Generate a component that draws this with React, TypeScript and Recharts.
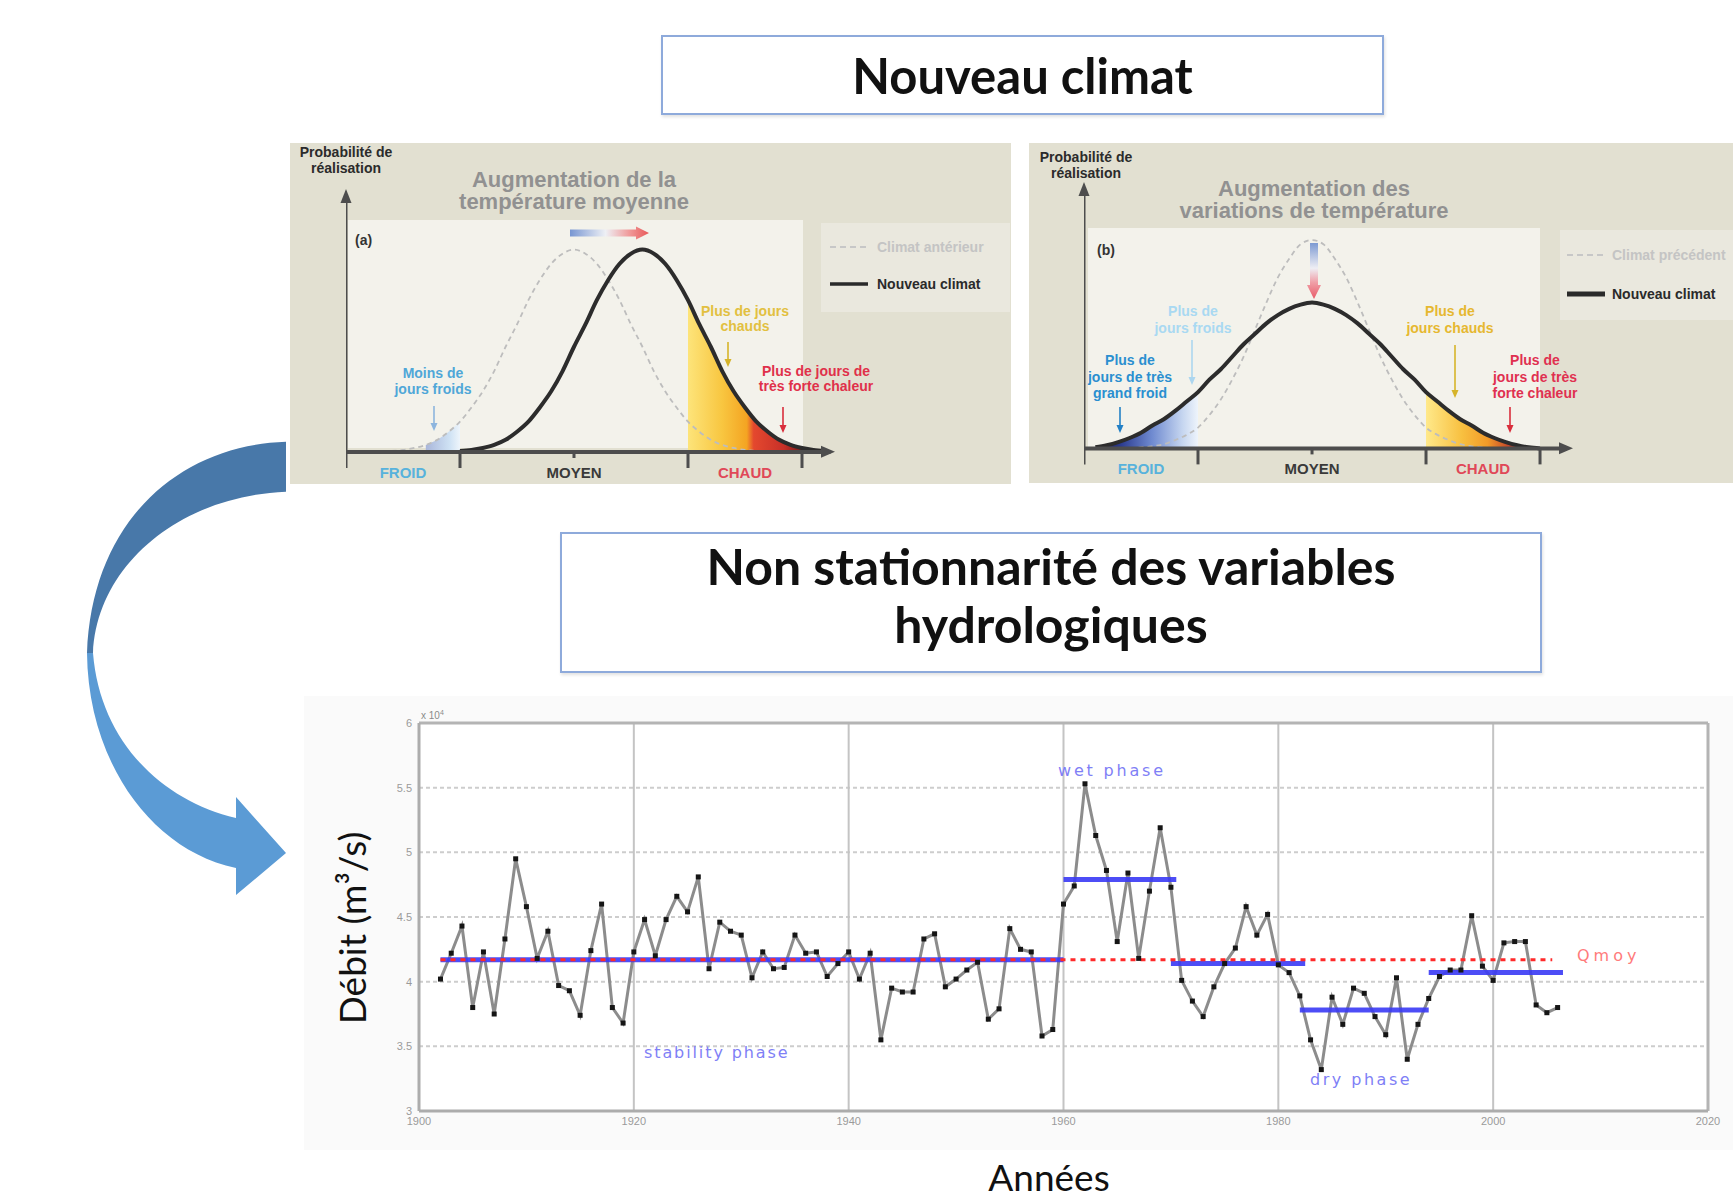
import React from 'react';
import {
  ComposedChart,
  LineChart,
  Line,
  Area,
  XAxis,
  YAxis,
  CartesianGrid,
  ReferenceLine,
} from 'recharts';

// ---- Débit annuel (x 10^4 m3/s), une valeur par an depuis 1902 ----
const PREMIERE_ANNEE = 1902;
const debits = [
  4.02, 4.22, 4.43, 3.8, 4.23, 3.75, 4.33, 4.95, 4.58, 4.18,
  4.39, 3.97, 3.93, 3.74, 4.24, 4.6, 3.8, 3.68, 4.23, 4.48,
  4.2, 4.48, 4.66, 4.54, 4.81, 4.1, 4.46, 4.39, 4.36, 4.03,
  4.23, 4.1, 4.11, 4.36, 4.22, 4.23, 4.04, 4.14, 4.23, 4.02,
  4.22, 3.55, 3.95, 3.92, 3.92, 4.33, 4.37, 3.96, 4.02, 4.09,
  4.15, 3.71, 3.79, 4.41, 4.25, 4.23, 3.58, 3.63, 4.6, 4.74,
  5.53, 5.13, 4.86, 4.31, 4.84, 4.18, 4.7, 5.19, 4.73, 4.01,
  3.85, 3.73, 3.96, 4.14, 4.26, 4.58, 4.36, 4.52, 4.13, 4.07,
  3.89, 3.55, 3.32, 3.88, 3.67, 3.95, 3.91, 3.73, 3.59, 4.03,
  3.4, 3.67, 3.87, 4.04, 4.09, 4.09, 4.51, 4.12, 4.01, 4.3,
  4.31, 4.31, 3.82, 3.76, 3.8,
];
const anneesGraduees = [1900, 1920, 1940, 1960, 1980, 2000, 2020];
const debitsGradues = [3, 3.5, 4, 4.5, 5, 5.5, 6];

// phases : stabilité, humide, retour, sèche, récente
const phaseDebut = [1902, 1960, 1970, 1982, 1994];
const phaseFin = [1960, 1970.5, 1982.5, 1994, 2006.5];
const phaseMoyenne = [4.17, 4.79, 4.14, 3.78, 4.07];
const qMoy = 4.17;
const qMoyPeriode = [1902, 2005.5];

// ---- Courbes de probabilité (a) : décalage de la moyenne ----
const temperatureA = [
  0.4, 0.5, 0.6, 0.7, 0.8, 0.9, 1, 1.1, 1.2, 1.3, 1.4, 1.5, 1.6, 1.7, 1.8, 1.9, 2, 2.1, 2.2, 2.3,
  2.4, 2.5, 2.6, 2.7, 2.8, 2.9, 3, 3.1, 3.2, 3.3, 3.4, 3.5, 3.6, 3.7, 3.8, 3.9, 4, 4.1, 4.2,
];
const climatAnterieur = [
  0.5, 1, 2, 3.5, 6, 10, 15, 22, 30, 40, 52, 63, 75, 85, 93, 98, 100, 98, 93, 85,
  75, 63, 52, 40, 30, 22, 15, 10, 6, 3.5, 2, 1, 0.5, 0, null, null, null, null, null,
];
const nouveauClimatA = [
  null, null, null, null, null, null, 0.5, 1, 2, 3.5, 6, 10, 15, 22, 30, 40, 52, 63, 75, 85,
  93, 98, 100, 98, 93, 85, 75, 63, 52, 40, 30, 22, 15, 10, 6, 3.5, 2, 1, 0.5,
];

// ---- Courbes de probabilité (b) : augmentation de la variance ----
const temperatureB = [
  0, 0.1, 0.2, 0.3, 0.4, 0.5, 0.6, 0.7, 0.8, 0.9, 1, 1.1, 1.2, 1.3, 1.4, 1.5, 1.6, 1.7, 1.8, 1.9,
  2, 2.1, 2.2, 2.3, 2.4, 2.5, 2.6, 2.7, 2.8, 2.9, 3, 3.1, 3.2, 3.3, 3.4, 3.5, 3.6, 3.7, 3.8, 3.9, 4,
];
const climatPrecedent = [
  null, null, null, null, 0, 0.5, 1, 2, 4, 6.5, 10, 16, 23.5, 33, 44, 57, 70, 82, 91, 98,
  100, 98, 91, 82, 70, 57, 44, 33, 23.5, 16, 10, 6.5, 4, 2, 1, 0.5, 0, null, null, null, null,
];
const nouveauClimatB = [
  null, 0.5, 1.5, 3, 5, 7.5, 11, 14, 18, 22.5, 27, 33, 38, 44, 50, 55, 60, 64, 67, 69,
  70, 69, 67, 64, 60, 55, 50, 44, 38, 33, 27, 22.5, 18, 14, 11, 7.5, 5, 3, 1.5, 0.5, 0,
];

const graduationsTemp = [0, 0.5, 1, 2, 3, 3.5, 4];
const libellesTemp: Record<string, { texte: string; couleur: string }> = {
  '0.5': { texte: 'FROID', couleur: '#58b2dc' },
  '2': { texte: 'MOYEN', couleur: '#3a3a3a' },
  '3.5': { texte: 'CHAUD', couleur: '#e04858' },
};

const policePanneau = '"Liberation Sans", Arial, sans-serif';
const policeTitre = 'Lato, "Open Sans", sans-serif';

const serieDebits = debits.map((debit, i) => ({ annee: PREMIERE_ANNEE + i, debit }));
const segmentsPhases = phaseDebut.map((debut, i) => [
  { annee: debut, niveau: phaseMoyenne[i] },
  { annee: phaseFin[i], niveau: phaseMoyenne[i] },
]);
const segmentQMoy = [
  { annee: qMoyPeriode[0], niveau: qMoy },
  { annee: qMoyPeriode[1], niveau: qMoy },
];

const lignesA = temperatureA.map((t, i) => ({
  t,
  precedent: climatAnterieur[i],
  nouveau: nouveauClimatA[i],
  froid: t >= 0.7 && t <= 1 ? climatAnterieur[i] : null,
  chaud: t >= 3 && t <= 4.2 ? nouveauClimatA[i] : null,
}));

const lignesB = temperatureB.map((t, i) => ({
  t,
  precedent: climatPrecedent[i],
  nouveau: nouveauClimatB[i],
  froid: t >= 0.1 && t <= 1 ? nouveauClimatB[i] : null,
  chaud: t >= 3 && t <= 3.9 ? nouveauClimatB[i] : null,
}));

const TickTemperature = (props: any) => {
  const { x, y, payload } = props;
  const lib = libellesTemp[String(payload.value)];
  if (lib) {
    return (
      <g>
        {payload.value === 2 && (
          <line x1={x} x2={x} y1={y} y2={y + 6} stroke="#4d4d4d" strokeWidth={3} />
        )}
        <text
          x={x}
          y={y + 26}
          textAnchor="middle"
          fill={lib.couleur}
          fontSize={15}
          fontWeight={700}
          fontFamily={policePanneau}
        >
          {lib.texte}
        </text>
      </g>
    );
  }
  return <line x1={x} x2={x} y1={y} y2={y + 16} stroke="#4d4d4d" strokeWidth={3} />;
};

type Stop = [string, string];

function PanneauCourbes(props: {
  id: string;
  lignes: any[];
  left: number;
  top: number;
  largeur: number;
  hauteur: number;
  xMax: number;
  stopsFroid: Stop[];
  stopsChaud: Stop[];
}) {
  const { id, lignes, left, top, largeur, hauteur, xMax, stopsFroid, stopsChaud } = props;
  return (
    <div style={{ position: 'absolute', left, top }}>
      <ComposedChart
        width={largeur}
        height={hauteur + 32}
        data={lignes}
        margin={{ top: 0, right: 0, bottom: 0, left: 0 }}
      >
        <defs>
          <linearGradient id={`${id}-froid`} x1="0" y1="0" x2="1" y2="0">
            {stopsFroid.map(([o, c]) => (
              <stop key={o} offset={o} stopColor={c} />
            ))}
          </linearGradient>
          <linearGradient id={`${id}-chaud`} x1="0" y1="0" x2="1" y2="0">
            {stopsChaud.map(([o, c]) => (
              <stop key={o} offset={o} stopColor={c} />
            ))}
          </linearGradient>
        </defs>
        <XAxis
          type="number"
          dataKey="t"
          domain={[0, xMax]}
          ticks={graduationsTemp}
          interval={0}
          tick={(p: any) => <TickTemperature {...p} />}
          tickLine={false}
          tickSize={0}
          tickMargin={0}
          height={32}
          axisLine={{ stroke: '#4d4d4d', strokeWidth: 4 }}
        />
        <YAxis hide type="number" domain={[0, 125]} />
        <ReferenceLine x={0} stroke="#4d4d4d" strokeWidth={3} />
        <Area
          type="monotone"
          dataKey="froid"
          stroke="none"
          fill={`url(#${id}-froid)`}
          fillOpacity={1}
          isAnimationActive={false}
        />
        <Area
          type="monotone"
          dataKey="chaud"
          stroke="none"
          fill={`url(#${id}-chaud)`}
          fillOpacity={1}
          isAnimationActive={false}
        />
        <Line
          type="monotone"
          dataKey="precedent"
          stroke="#bdbdbd"
          strokeWidth={1.8}
          strokeDasharray="5 4"
          dot={false}
          activeDot={false}
          isAnimationActive={false}
        />
        <Line
          type="monotone"
          dataKey="nouveau"
          stroke="#2c2c2c"
          strokeWidth={4}
          dot={false}
          activeDot={false}
          isAnimationActive={false}
        />
      </ComposedChart>
    </div>
  );
}

function Note(props: {
  x: number;
  top: number;
  couleur: string;
  lignes: string[];
  taille?: number;
  interligne?: number;
}) {
  const { x, top, couleur, lignes, taille = 14, interligne = 16 } = props;
  return (
    <div
      style={{
        position: 'absolute',
        left: x - 150,
        width: 300,
        top,
        textAlign: 'center',
        color: couleur,
        fontSize: taille,
        lineHeight: `${interligne}px`,
        fontWeight: 700,
        fontFamily: policePanneau,
        whiteSpace: 'nowrap',
      }}
    >
      {lignes.map((l, i) => (
        <div key={i}>{l}</div>
      ))}
    </div>
  );
}

function Texte(props: { left: number; top: number; style?: React.CSSProperties; children: React.ReactNode }) {
  return (
    <div style={{ position: 'absolute', left: props.left, top: props.top, whiteSpace: 'nowrap', ...props.style }}>
      {props.children}
    </div>
  );
}

function FlecheBas({ x, y1, y2, couleur }: { x: number; y1: number; y2: number; couleur: string }) {
  return (
    <g>
      <line x1={x} x2={x} y1={y1} y2={y2 - 6} stroke={couleur} strokeWidth={1.6} />
      <path d={`M${x - 3.5},${y2 - 8} L${x + 3.5},${y2 - 8} L${x},${y2} Z`} fill={couleur} />
    </g>
  );
}

const CarreNoir = (props: any) => {
  const { cx, cy, index } = props;
  if (cx == null || cy == null) return <g key={`v-${index}`} />;
  return <rect key={`c-${index}`} x={cx - 2.5} y={cy - 2.5} width={5} height={5} fill="#151515" />;
};

const styleEncadre: React.CSSProperties = {
  position: 'absolute',
  border: '2px solid #8eaadb',
  background: '#ffffff',
  boxShadow: '1px 2px 3px rgba(0,0,0,0.12)',
  fontFamily: policeTitre,
  fontWeight: 700,
  color: '#111',
  textAlign: 'center',
};

const stylePhase: React.CSSProperties = {
  fontFamily: '"DejaVu Sans", sans-serif',
  fontSize: 16,
  lineHeight: '18px',
  color: '#7f7ff6',
};

export default function App() {
  return (
    <div
      style={{
        position: 'relative',
        width: 1733,
        height: 1202,
        overflow: 'hidden',
        background: '#ffffff',
      }}
    >
      <style>{'body{margin:0}'}</style>

      {/* encadré du haut */}
      <div style={{ ...styleEncadre, left: 661, top: 35, width: 719, height: 76 }}>
        <div style={{ position: 'absolute', left: 0, right: 0, top: 9, fontSize: 49, lineHeight: '58px' }}>
          Nouveau climat
        </div>
      </div>

      {/* fonds des deux schémas */}
      <div style={{ position: 'absolute', left: 290, top: 143, width: 721, height: 341, background: '#e2e0d1' }} />
      <div style={{ position: 'absolute', left: 348, top: 220, width: 455, height: 228, background: '#f3f2eb' }} />
      <div style={{ position: 'absolute', left: 821, top: 223, width: 189, height: 89, background: '#eae8de' }} />
      <div style={{ position: 'absolute', left: 1029, top: 143, width: 704, height: 340, background: '#e2e0d1' }} />
      <div style={{ position: 'absolute', left: 1088, top: 228, width: 452, height: 219, background: '#f3f2eb' }} />
      <div style={{ position: 'absolute', left: 1560, top: 230, width: 173, height: 90, background: '#eae8de' }} />

      <PanneauCourbes
        id="a"
        lignes={lignesA}
        left={346}
        top={198.7}
        largeur={484.5}
        hauteur={253}
        xMax={4.25}
        stopsFroid={[
          ['0', '#a9b6da'],
          ['0.7', '#cfe2f4'],
          ['1', '#eef5fb'],
        ]}
        stopsChaud={[
          ['0', '#fde47a'],
          ['0.25', '#f8c640'],
          ['0.43', '#f4a422'],
          ['0.48', '#e4482e'],
          ['0.7', '#c83028'],
          ['0.85', '#6e1a1a'],
          ['1', '#5a1414'],
        ]}
      />
      <PanneauCourbes
        id="b"
        lignes={lignesB}
        left={1084}
        top={187.9}
        largeur={483.4}
        hauteur={260.4}
        xMax={4.24}
        stopsFroid={[
          ['0', '#141450'],
          ['0.25', '#2c3c90'],
          ['0.55', '#6f8ad0'],
          ['0.85', '#c6d6f0'],
          ['1', '#eef4fb'],
        ]}
        stopsChaud={[
          ['0', '#ffe98a'],
          ['0.35', '#f8c040'],
          ['0.6', '#f29a28'],
          ['0.82', '#c0402a'],
          ['1', '#501010'],
        ]}
      />

      {/* fond de la figure hydrologique */}
      <div style={{ position: 'absolute', left: 304, top: 696, width: 1429, height: 454, background: '#fafafa' }} />

      <div style={{ position: 'absolute', left: 360, top: 700 }}>
        <LineChart width={1373} height={450} margin={{ top: 23, right: 25, bottom: 0, left: 9 }}>
          <CartesianGrid
            vertical={false}
            stroke="#cdcdcd"
            strokeWidth={2}
            strokeDasharray="4 3"
            fill="#ffffff"
          />
          <CartesianGrid horizontal={false} stroke="#c4c4c4" strokeWidth={2} />
          <XAxis
            type="number"
            dataKey="annee"
            domain={[1900, 2020]}
            ticks={anneesGraduees}
            interval={0}
            height={39}
            tickLine={false}
            tickSize={0}
            tickMargin={6}
            axisLine={{ stroke: '#acacac', strokeWidth: 3 }}
            tick={{ fontSize: 11, fill: '#9a9a9a', fontFamily: policePanneau }}
          />
          <YAxis
            type="number"
            domain={[3, 6]}
            ticks={debitsGradues}
            interval={0}
            width={50}
            tickLine={false}
            tickSize={0}
            tickMargin={7}
            axisLine={{ stroke: '#acacac', strokeWidth: 3 }}
            tick={{ fontSize: 11, fill: '#9a9a9a', fontFamily: policePanneau }}
          />
          <ReferenceLine y={6} stroke="#b4b4b4" strokeWidth={3} />
          <ReferenceLine x={2020} stroke="#b4b4b4" strokeWidth={3} />
          <Line
            data={serieDebits}
            dataKey="debit"
            type="linear"
            stroke="#8c8c8c"
            strokeWidth={3}
            dot={CarreNoir}
            activeDot={false}
            isAnimationActive={false}
          />
          {segmentsPhases.map((seg, i) => (
            <Line
              key={`phase-${i}`}
              data={seg}
              dataKey="niveau"
              type="linear"
              stroke="#3a3af5"
              strokeOpacity={0.9}
              strokeWidth={5}
              dot={false}
              activeDot={false}
              isAnimationActive={false}
            />
          ))}
          <Line
            data={segmentQMoy}
            dataKey="niveau"
            type="linear"
            stroke="#ff2a2a"
            strokeWidth={3}
            strokeDasharray="5 5"
            dot={false}
            activeDot={false}
            isAnimationActive={false}
          />
        </LineChart>
      </div>

      {/* flèches et repères dessinés par-dessus */}
      <svg
        width={1733}
        height={1202}
        style={{ position: 'absolute', left: 0, top: 0, pointerEvents: 'none' }}
      >
        <defs>
          <linearGradient id="flecheH" x1="0" y1="0" x2="1" y2="0">
            <stop offset="0" stopColor="#7896d2" />
            <stop offset="0.45" stopColor="#eef0f5" />
            <stop offset="0.75" stopColor="#f09a9a" />
            <stop offset="1" stopColor="#e85858" />
          </linearGradient>
          <linearGradient id="flecheV" x1="0" y1="0" x2="0" y2="1">
            <stop offset="0" stopColor="#7d9ad2" />
            <stop offset="0.45" stopColor="#eeeef4" />
            <stop offset="0.7" stopColor="#f0a0a8" />
            <stop offset="1" stopColor="#e85a68" />
          </linearGradient>
        </defs>

        {/* grande flèche courbe reliant les deux parties */}
        <path d="M286 441.7 C180 445 92 520 87 653 L93 653 C97 565 180 496 286 491.7 Z" fill="#4878a9" />
        <path
          d="M87 653 C88 760 150 850 236 868 L236 895 L286 853 L236 797 L236 818 C160 800 100 740 93 653 Z"
          fill="#5b9bd5"
        />

        {/* pointes des axes */}
        <path d="M346 189 L340.5 203 L351.5 203 Z" fill="#4d4d4d" />
        <path d="M835 451.7 L821 445.7 L821 457.7 Z" fill="#4d4d4d" />
        <path d="M1084 182 L1078.5 196 L1089.5 196 Z" fill="#4d4d4d" />
        <path d="M1573 448.3 L1559 442.3 L1559 454.3 Z" fill="#4d4d4d" />

        {/* décalage et aplatissement */}
        <path d="M570 229.5 L636 229.5 L636 226.5 L649 233 L636 239.5 L636 236.5 L570 236.5 Z" fill="url(#flecheH)" />
        <path d="M1310 243 L1318 243 L1318 285 L1321 285 L1314 299 L1307 285 L1310 285 Z" fill="url(#flecheV)" />

        {/* flèches des annotations */}
        <FlecheBas x={434} y1={406} y2={431} couleur="#8db5de" />
        <FlecheBas x={728} y1={342} y2={367} couleur="#d6b42a" />
        <FlecheBas x={783} y1={407} y2={433} couleur="#d92e3c" />
        <FlecheBas x={1192} y1={340} y2={385} couleur="#acd6ef" />
        <FlecheBas x={1120} y1={407} y2={433} couleur="#2280c6" />
        <FlecheBas x={1455} y1={345} y2={398} couleur="#d6b42a" />
        <FlecheBas x={1510} y1={407} y2={433} couleur="#d92e3c" />

        {/* symboles des légendes */}
        <line x1={830} x2={868} y1={247} y2={247} stroke="#c7c7c7" strokeWidth={2} strokeDasharray="6 4" />
        <line x1={830} x2={868} y1={284} y2={284} stroke="#2a2a2a" strokeWidth={3.5} />
        <line x1={1567} x2={1605} y1={255} y2={255} stroke="#c7c7c7" strokeWidth={2} strokeDasharray="6 4" />
        <line x1={1567} x2={1605} y1={294} y2={294} stroke="#2a2a2a" strokeWidth={5} />
      </svg>

      {/* textes du schéma (a) */}
      <Note x={346} top={144} couleur="#2b2b2b" lignes={['Probabilité de', 'réalisation']} />
      <Note
        x={574}
        top={169}
        couleur="#919191"
        taille={22}
        interligne={22}
        lignes={['Augmentation de la', 'température moyenne']}
      />
      <Texte left={355} top={232} style={{ fontFamily: policePanneau, fontWeight: 700, fontSize: 14, color: '#333' }}>
        (a)
      </Texte>
      <Note x={433} top={365} couleur="#4fa7d8" lignes={['Moins de', 'jours froids']} />
      <Note x={745} top={304} couleur="#e2c040" interligne={15} lignes={['Plus de jours', 'chauds']} />
      <Note x={816} top={364} couleur="#e0304a" interligne={15} lignes={['Plus de jours de', 'très forte chaleur']} />
      <Texte left={877} top={239} style={{ fontFamily: policePanneau, fontWeight: 700, fontSize: 14, lineHeight: '16px', color: '#c4c4c4' }}>
        Climat antérieur
      </Texte>
      <Texte left={877} top={276} style={{ fontFamily: policePanneau, fontWeight: 700, fontSize: 14, lineHeight: '16px', color: '#2a2a2a' }}>
        Nouveau climat
      </Texte>

      {/* textes du schéma (b) */}
      <Note x={1086} top={149} couleur="#2b2b2b" lignes={['Probabilité de', 'réalisation']} />
      <Note
        x={1314}
        top={178}
        couleur="#919191"
        taille={22}
        interligne={22}
        lignes={['Augmentation des', 'variations de température']}
      />
      <Texte left={1097} top={242} style={{ fontFamily: policePanneau, fontWeight: 700, fontSize: 14, color: '#333' }}>
        (b)
      </Texte>
      <Note x={1193} top={303} couleur="#a9d9f2" interligne={16.5} lignes={['Plus de', 'jours froids']} />
      <Note x={1130} top={352} couleur="#2a8fd0" interligne={16.7} lignes={['Plus de', 'jours de très', 'grand froid']} />
      <Note x={1450} top={303} couleur="#e6b830" interligne={16.5} lignes={['Plus de', 'jours chauds']} />
      <Note x={1535} top={352} couleur="#e03050" interligne={16.7} lignes={['Plus de', 'jours de très', 'forte chaleur']} />
      <Texte left={1612} top={247} style={{ fontFamily: policePanneau, fontWeight: 700, fontSize: 14, lineHeight: '16px', color: '#c4c4c4' }}>
        Climat précédent
      </Texte>
      <Texte left={1612} top={286} style={{ fontFamily: policePanneau, fontWeight: 700, fontSize: 14, lineHeight: '16px', color: '#2a2a2a' }}>
        Nouveau climat
      </Texte>

      {/* encadré du milieu */}
      <div style={{ ...styleEncadre, left: 560, top: 532, width: 978, height: 137 }}>
        <div style={{ position: 'absolute', left: 0, right: 0, top: 3, fontSize: 50, lineHeight: '58px' }}>
          <div>Non stationnarité des variables</div>
          <div>hydrologiques</div>
        </div>
      </div>

      {/* textes de la figure hydrologique */}
      <Texte left={421} top={709} style={{ fontFamily: policePanneau, fontSize: 10, color: '#8a8a8a' }}>
        x 10<sup style={{ fontSize: 7 }}>4</sup>
      </Texte>
      <Texte left={1058} top={762} style={{ ...stylePhase, letterSpacing: 2.8 }}>
        wet phase
      </Texte>
      <Texte left={644} top={1044} style={{ ...stylePhase, letterSpacing: 1.9 }}>
        stability phase
      </Texte>
      <Texte left={1310} top={1071} style={{ ...stylePhase, letterSpacing: 2.5 }}>
        dry phase
      </Texte>
      <Texte left={1577} top={947} style={{ ...stylePhase, letterSpacing: 4, color: '#ff7b7b' }}>
        Qmoy
      </Texte>

      <div
        style={{
          position: 'absolute',
          left: 351,
          top: 928,
          transform: 'translate(-50%, -50%) rotate(-90deg)',
          fontFamily: policeTitre,
          fontSize: 37,
          color: '#111',
          whiteSpace: 'nowrap',
        }}
      >
        Débit (m³/s)
      </div>
      <div
        style={{
          position: 'absolute',
          left: 1049,
          top: 1176,
          transform: 'translate(-50%, -50%)',
          fontFamily: policeTitre,
          fontSize: 37,
          color: '#111',
          whiteSpace: 'nowrap',
        }}
      >
        Années
      </div>
    </div>
  );
}
